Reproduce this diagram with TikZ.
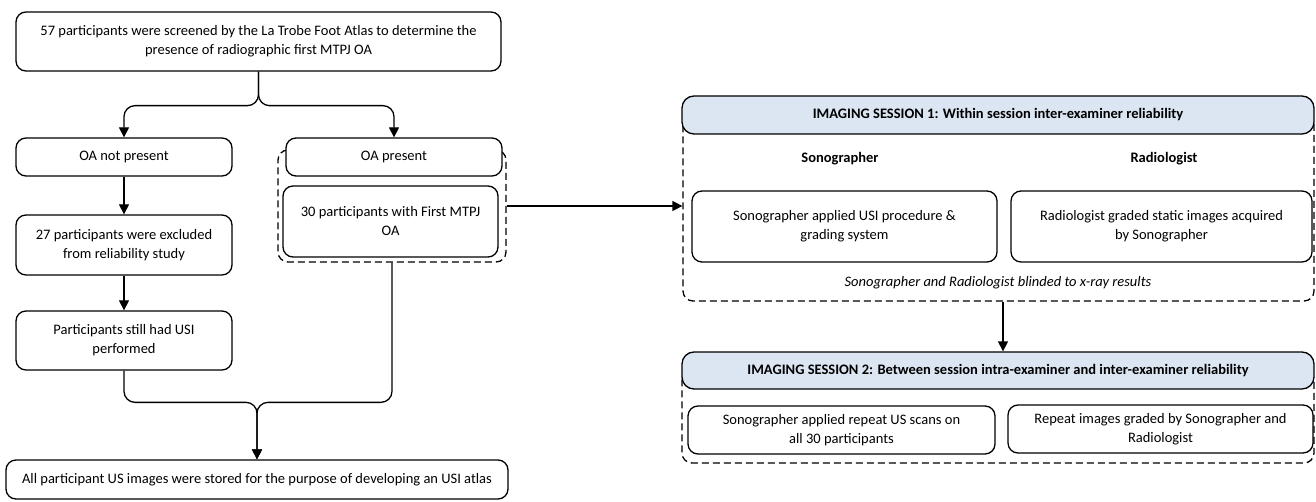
\documentclass[tikz,border=0pt]{standalone}
\usepackage{fontspec}
\setmainfont{Carlito}
\usetikzlibrary{arrows.meta,calc}
\definecolor{hdrblue}{HTML}{DCE6F2}
\begin{document}
\begin{tikzpicture}[x=1pt,y=1pt,
  font=\fontsize{14.5}{19}\selectfont,
  line width=1.3pt,
  box/.style={draw=black,rounded corners=10pt,fill=white,align=center,inner sep=0pt},
  grp/.style={draw=black,dash pattern=on 7pt off 4pt,rounded corners=10pt,inner sep=0pt},
  hdr/.style={draw=black,rounded corners=12pt,fill=hdrblue,align=center,inner sep=0pt,font=\fontsize{14.5}{19}\selectfont\bfseries},
  arr/.style={-{Triangle[width=10pt,length=10pt]}},
  conn/.style={rounded corners=11pt}
]
\useasboundingbox (0,0) rectangle (1316,-502);

% left column
\node[box,minimum width=485pt,minimum height=59pt] (top) at (258.5,-41.5)
  {57 participants were screened by the La Trobe Foot Atlas to determine the\\presence of radiographic first MTPJ OA};
\node[box,minimum width=216pt,minimum height=38pt] (oanot) at (124,-157) {OA not present};
\node[grp,minimum width=228pt,minimum height=112pt] (oagroup) at (392,-206) {};
\node[box,minimum width=216pt,minimum height=38pt] (oapres) at (394,-157) {OA present};
\node[box,minimum width=215pt,minimum height=71pt] (thirty) at (390.5,-221.5) {30 participants with First MTPJ\\OA};
\node[box,minimum width=216pt,minimum height=60pt] (excl) at (124,-245) {27 participants were excluded\\from reliability study};
\node[box,minimum width=216pt,minimum height=59pt] (still) at (124,-340.5) {Participants still had USI\\performed};
\node[box,minimum width=502pt,minimum height=39pt] (final) at (257,-479.5)
  {All participant US images were stored for the purpose of developing an USI atlas};

% right column: session 1
\node[grp,minimum width=631pt,minimum height=186pt] (s1group) at (998.5,-208) {};
\node[hdr,minimum width=632pt,minimum height=38pt] (s1head) at (998,-115)
  {IMAGING SESSION 1: Within session inter-examiner reliability};
\node[font=\fontsize{14.5}{19}\selectfont\bfseries] (sonolbl) at (840,-159) {Sonographer};
\node[font=\fontsize{14.5}{19}\selectfont\bfseries] (radiolbl) at (1164,-159) {Radiologist};
\node[box,minimum width=305pt,minimum height=71pt] (sonobox) at (844.5,-226.5)
  {Sonographer applied USI procedure \&\\grading system};
\node[box,minimum width=301pt,minimum height=71pt] (radiobox) at (1161.5,-226.5)
  {Radiologist graded static images acquired\\by Sonographer};
\node[font=\fontsize{14.5}{19}\selectfont\itshape] (blind) at (998,-283)
  {Sonographer and Radiologist blinded to x-ray results};

% session 2
\node[grp,minimum width=632pt,minimum height=93pt] (s2group) at (998,-416.5) {};
\node[hdr,minimum width=632pt,minimum height=37pt] (s2head) at (998,-370.5)
  {IMAGING SESSION 2: Between session intra-examiner and inter-examiner reliability};
\node[box,minimum width=307pt,minimum height=48pt] (sono2) at (841.5,-430)
  {Sonographer applied repeat US scans on\\all 30 participants};
\node[box,minimum width=305pt,minimum height=48pt] (repeat) at (1160.5,-429)
  {Repeat images graded by Sonographer and\\Radiologist};

% connectors
\coordinate (split) at ($(top.south)+(0,-34)$);
\draw[arr,conn] (top.south) -- (split) -- (split -| oanot.north) -- (oanot.north);
\draw[arr,conn] (top.south) -- (split) -- (split -| oapres.north) -- (oapres.north);
\draw[arr] (oanot) -- (excl);
\draw[arr] (excl) -- (still);
\coordinate (merge) at ($(final.north)+(0,57)$);
\draw[arr,conn] (still.south) -- (still.south |- merge) -- (merge) -- (final.north);
\draw[arr,conn] (oagroup.south) -- (oagroup.south |- merge) -- (merge) -- (final.north);
\draw[arr] (oagroup.east) -- (oagroup.east -| s1group.west);
\draw[arr] ($(s1group.south)+(4.5,0)$) -- ($(s2head.north)+(5,0)$);
\end{tikzpicture}
\end{document}
